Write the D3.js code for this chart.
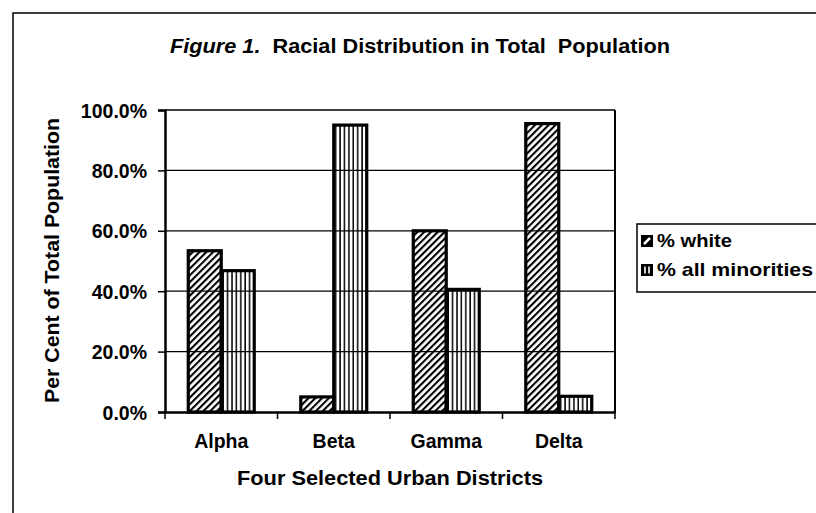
<!DOCTYPE html>
<html>
<head>
<meta charset="utf-8">
<script src="https://cdn.jsdelivr.net/npm/d3@7"></script>
<style>
  body { margin: 0; background: #fff; }
  svg { display: block; font-family: "Liberation Sans", Arial, sans-serif; }
</style>
</head>
<body>
<div id="chart"></div>
<script>
// values (per cent)
const districts = ["Alpha", "Beta", "Gamma", "Delta"]
const pctWhite = [53.4, 5.0, 60.0, 95.5]
const pctMinorities = [46.8, 95.0, 40.6, 5.2]
const seriesNames = ["% white", "% all minorities"]
const yTicks = [0, 20, 40, 60, 80, 100]

const width = 816, height = 513
const margin = {top: 110, right: 201, bottom: 101, left: 165}

const svg = d3.select("#chart").append("svg")
    .attr("width", width)
    .attr("height", height)

// hatch patterns
const defs = svg.append("defs")
defs.append("pattern")
    .attr("id", "diag")
    .attr("patternUnits", "userSpaceOnUse")
    .attr("width", 4.8).attr("height", 4.8)
    .attr("patternTransform", "rotate(45)")
  .append("line")
    .attr("x1", 1).attr("y1", 0).attr("x2", 1).attr("y2", 4.8)
    .attr("stroke", "#000").attr("stroke-width", 2.2)
defs.append("pattern")
    .attr("id", "vert")
    .attr("patternUnits", "userSpaceOnUse")
    .attr("width", 4.4).attr("height", 10)
  .append("line")
    .attr("x1", 1).attr("y1", 0).attr("x2", 1).attr("y2", 10)
    .attr("stroke", "#000").attr("stroke-width", 1.5)
const fills = ["url(#diag)", "url(#vert)"]

// outer frame (only top and left edges show in the scan)
svg.append("path")
    .attr("d", "M13,513 V13 H816")
    .attr("fill", "none").attr("stroke", "#000").attr("stroke-width", 1.5)

const x = d3.scaleBand()
    .domain(districts)
    .range([margin.left, width - margin.right])
const xInner = d3.scaleBand()
    .domain(seriesNames)
    .range([0, x.bandwidth()])
    .paddingOuter(0.705)
const y = d3.scaleLinear()
    .domain([0, 100])
    .range([height - margin.bottom, margin.top])

// gridlines
svg.append("g")
    .selectAll("line")
    .data(yTicks.filter(d => d > 0))
    .join("line")
    .attr("x1", margin.left).attr("x2", width - margin.right)
    .attr("y1", d => y(d)).attr("y2", d => y(d))
    .attr("stroke", "#000").attr("stroke-width", 1.3)

// right edge of plot area
svg.append("line")
    .attr("x1", width - margin.right).attr("x2", width - margin.right)
    .attr("y1", y(100)).attr("y2", y(0))
    .attr("stroke", "#000").attr("stroke-width", 2)

// bars
const rows = districts.map((d, i) => ({district: d, values: [pctWhite[i], pctMinorities[i]]}))
const groups = svg.append("g")
    .selectAll("g")
    .data(rows)
    .join("g")
    .attr("transform", d => `translate(${x(d.district)},0)`)
groups.selectAll("rect")
    .data(d => d.values.map((v, j) => ({series: seriesNames[j], value: v, j: j})))
    .join("rect")
    .attr("x", d => xInner(d.series))
    .attr("width", xInner.bandwidth())
    .attr("y", d => y(d.value))
    .attr("height", d => y(0) - y(d.value))
    .attr("fill", d => fills[d.j])
    .attr("stroke", "#000")
    .attr("stroke-width", 3.2)

// y axis
const yAxis = svg.append("g")
    .attr("transform", `translate(${margin.left},0)`)
    .call(d3.axisLeft(y).tickValues(yTicks).tickFormat(d => d.toFixed(1) + "%").tickSize(7).tickPadding(11))
yAxis.select(".domain").attr("stroke-width", 2.5)
yAxis.selectAll(".tick line").attr("stroke-width", 1.5)
yAxis.selectAll("text")
    .attr("font-size", 19.5).attr("font-weight", "bold").attr("fill", "#000")
    .attr("dy", "0.36em")

// x axis
const xAxis = svg.append("g")
    .attr("transform", `translate(0,${y(0)})`)
    .call(d3.axisBottom(x).tickSize(0).tickPadding(0))
xAxis.select(".domain").attr("stroke-width", 2.5)
xAxis.selectAll("text")
    .attr("font-size", 19.5).attr("font-weight", "bold").attr("fill", "#000")
    .attr("y", 36).attr("dy", 0)
// category separators below the axis
svg.append("g")
    .selectAll("line")
    .data(districts.map(d => x(d)).concat([width - margin.right]))
    .join("line")
    .attr("x1", d => d).attr("x2", d => d)
    .attr("y1", y(0)).attr("y2", y(0) + 7)
    .attr("stroke", "#000").attr("stroke-width", 1.5)

// titles
const title = svg.append("text")
    .attr("x", 170).attr("y", 53)
    .attr("font-size", 19.5).attr("font-weight", "bold")
    .attr("textLength", 500).attr("lengthAdjust", "spacingAndGlyphs")
    .style("white-space", "pre")
title.append("tspan").attr("font-style", "italic").text("Figure 1.")
title.append("tspan").text("  Racial Distribution in Total  Population")

svg.append("text")
    .attr("x", 237).attr("y", 485)
    .attr("font-size", 19.5).attr("font-weight", "bold")
    .attr("textLength", 306).attr("lengthAdjust", "spacingAndGlyphs")
    .text("Four Selected Urban Districts")

svg.append("text")
    .attr("transform", `translate(59,403) rotate(-90)`)
    .attr("font-size", 19.5).attr("font-weight", "bold")
    .attr("textLength", 285).attr("lengthAdjust", "spacingAndGlyphs")
    .text("Per Cent of Total Population")

// legend
const legendWidths = [75, 156]
const legend = svg.append("g").attr("transform", "translate(637,224)")
legend.append("rect")
    .attr("width", 185).attr("height", 68)
    .attr("fill", "#fff").attr("stroke", "#000").attr("stroke-width", 1.5)
const items = legend.selectAll("g.item")
    .data(seriesNames)
    .join("g")
    .attr("class", "item")
    .attr("transform", (d, i) => `translate(4,${11 + i * 29})`)
items.append("rect")
    .attr("width", 12).attr("height", 12)
    .attr("fill", "#000")
items.filter((d, i) => i === 0).append("path")
    .attr("d", "M3,9 L9,3").attr("stroke", "#fff").attr("stroke-width", 2.5)
items.filter((d, i) => i === 1).append("path")
    .attr("d", "M4,2.5 V9.5 M8,2.5 V9.5").attr("stroke", "#fff").attr("stroke-width", 1.6)
items.append("text")
    .attr("x", 16).attr("y", 12)
    .attr("font-size", 19).attr("font-weight", "bold")
    .attr("textLength", (d, i) => legendWidths[i]).attr("lengthAdjust", "spacingAndGlyphs")
    .text(d => d)
</script>
</body>
</html>
